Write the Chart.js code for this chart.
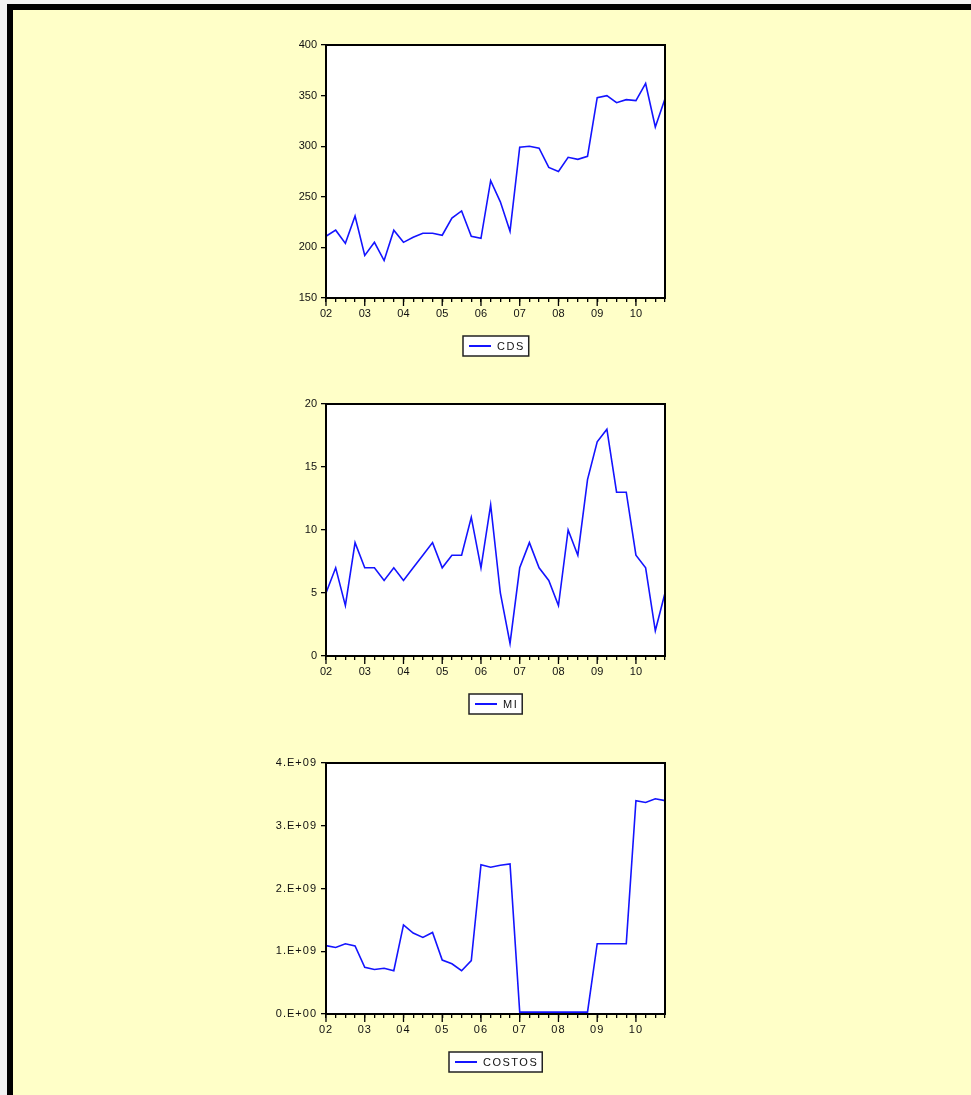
<!DOCTYPE html>
<html>
<head>
<meta charset="utf-8">
<script src="https://cdn.jsdelivr.net/npm/chart.js@4.4.0/dist/chart.umd.min.js"></script>
<style>
html,body{margin:0;padding:0;background:#f2f2f2;}
body{width:971px;height:1095px;overflow:hidden;position:relative;}
#frame{position:absolute;left:7px;top:4px;width:1100px;height:1200px;border-left:6px solid #000;border-top:6px solid #000;background:#ffffc8;}
canvas{position:absolute;left:0;}
</style>
</head>
<body>
<div id="frame"></div>
<canvas id="c1" width="971" height="350" style="top:15px"></canvas>
<canvas id="c2" width="971" height="349" style="top:374px"></canvas>
<canvas id="c3" width="971" height="348" style="top:733px"></canvas>
<script>
// quarterly data 2002Q1 .. 2010Q4
const quarters = ['2002Q1','2002Q2','2002Q3','2002Q4','2003Q1','2003Q2','2003Q3','2003Q4',
  '2004Q1','2004Q2','2004Q3','2004Q4','2005Q1','2005Q2','2005Q3','2005Q4',
  '2006Q1','2006Q2','2006Q3','2006Q4','2007Q1','2007Q2','2007Q3','2007Q4',
  '2008Q1','2008Q2','2008Q3','2008Q4','2009Q1','2009Q2','2009Q3','2009Q4',
  '2010Q1','2010Q2','2010Q3','2010Q4'];
const yearLabels = ['02','03','04','05','06','07','08','09','10'];

const cds = [211,217,204,231,192,205,187,217,205,210,214,214,212,229,236,211,
  209,266,245,216,299,300,298,279,275,289,287,290,348,350,343,346,345,362,319,347];
const mi = [5,7,4,9,7,7,6,7,6,7,8,9,7,8,8,11,7,12,5,1,7,9,7,6,4,10,8,14,17,18,13,13,8,7,2,5];
const costos = [1.09e9,1.06e9,1.12e9,1.085e9,0.745e9,0.71e9,0.73e9,0.69e9,1.42e9,1.29e9,1.22e9,1.30e9,
  0.86e9,0.80e9,0.69e9,0.85e9,2.38e9,2.34e9,2.37e9,2.39e9,0.03e9,0.03e9,0.03e9,0.03e9,
  0.03e9,0.03e9,0.03e9,0.03e9,1.12e9,1.12e9,1.12e9,1.12e9,3.40e9,3.37e9,3.43e9,3.40e9];

const FONT = 'Liberation Sans, Arial, sans-serif';

// white plot area, black frame, long year ticks, boxed legend
const evPlugin = {
  id:'evFrame',
  beforeDraw(chart){
    const a = chart.chartArea, c = chart.ctx;
    c.letterSpacing = chart.options.tickSpacing || '0px';
    c.save(); c.fillStyle = '#fff'; c.fillRect(a.left, a.top, a.right-a.left, a.bottom-a.top); c.restore();
  },
  afterDraw(chart){
    const a = chart.chartArea, c = chart.ctx, xs = chart.scales.x;
    c.save();
    c.strokeStyle = '#000'; c.lineWidth = 2;
    c.strokeRect(a.left, a.top, a.right-a.left, a.bottom-a.top);
    c.lineWidth = 1.3;
    for(let i=0;i<quarters.length;i+=4){
      const px = xs.getPixelForTick(i);
      c.beginPath(); c.moveTo(px, a.bottom); c.lineTo(px, a.bottom+8); c.stroke();
    }
    // legend
    const ds = chart.data.datasets[0];
    c.font = '11px ' + FONT;
    c.letterSpacing = '1.5px';
    const tw = c.measureText(ds.label).width;
    const w = 6+22+6+tw+4, h = 20;
    const lx = Math.round((a.left+a.right)/2 - w/2), ly = Math.round(a.bottom + 38);
    c.fillStyle = '#fff'; c.fillRect(lx, ly, w, h);
    c.strokeStyle = '#222'; c.lineWidth = 1.5; c.strokeRect(lx, ly, w, h);
    c.strokeStyle = ds.borderColor; c.lineWidth = 2;
    c.beginPath(); c.moveTo(lx+6, ly+h/2); c.lineTo(lx+28, ly+h/2); c.stroke();
    c.fillStyle = '#111'; c.textBaseline = 'middle';
    c.fillText(ds.label, lx+34, ly+h/2+1);
    c.restore();
  }
};

function makeChart(id, label, values, yMin, yMax, yStep, yFmt, spacing){
  return new Chart(document.getElementById(id), {
    type:'line',
    data:{labels:quarters, datasets:[{label:label, data:values, borderColor:'#1414ff', borderWidth:1.6,
      pointRadius:0, tension:0, fill:false}]},
    options:{
      responsive:false, animation:false, devicePixelRatio:1, tickSpacing:spacing,
      layout:{padding:{left:266, right:306, top:30, bottom:27}},
      plugins:{legend:{display:false}, tooltip:{enabled:false}},
      scales:{
        x:{type:'category', offset:false,
          grid:{drawOnChartArea:false, tickLength:4, color:'#000', lineWidth:1.3},
          border:{color:'#000', width:2},
          ticks:{autoSkip:false, maxRotation:0, padding:5, color:'#111', font:{family:FONT, size:11},
            callback:(v,i)=> i%4===0 ? yearLabels[i/4] : ''},
          afterFit:s=>{ s.height = 40; }},
        y:{min:yMin, max:yMax,
          grid:{drawOnChartArea:false, tickLength:5, color:'#000', lineWidth:1.3},
          border:{color:'#000', width:2},
          ticks:{stepSize:yStep, padding:4, color:'#111', font:{family:FONT, size:11}, callback:yFmt},
          afterFit:s=>{ s.width = 60; }}
      }
    },
    plugins:[evPlugin]
  });
}

makeChart('c1', 'CDS', cds, 150, 400, 50, v=>v, '0px');
makeChart('c2', 'MI', mi, 0, 20, 5, v=>v, '0px');
makeChart('c3', 'COSTOS', costos, 0, 4e9, 1e9, v=> v===0 ? '0.E+00' : (v/1e9)+'.E+09', '1px');
</script>
</body>
</html>
